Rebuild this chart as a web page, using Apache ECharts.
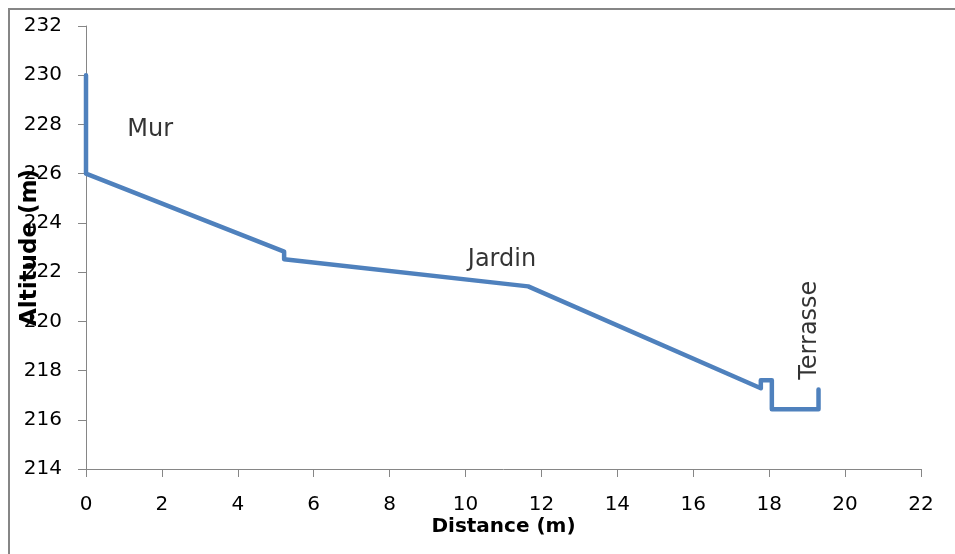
<!DOCTYPE html>
<html>
<head>
<meta charset="utf-8">
<script src="https://cdn.jsdelivr.net/npm/echarts@6/dist/echarts.min.js"></script>
<style>
  html, body { margin: 0; padding: 0; background: #ffffff; overflow: hidden; }
  #chart { width: 955px; height: 554px; }
</style>
</head>
<body>
<div id="chart"></div>
<script>
// Ground profile: distance along the section (m) and altitude (m)
const distance = [0, 0, 5.22, 5.22, 11.65, 17.78, 17.78, 18.07, 18.07, 19.3, 19.3];
const altitude = [230, 226, 222.83, 222.52, 221.42, 217.28, 217.61, 217.61, 216.43, 216.43, 217.23];

// Place names written along the profile
const placeNames = ['Mur', 'Jardin', 'Terrasse'];
const placeX = [1.69, 10.96, 19.08];
const placeY = [227.77, 222.49, 219.64];
const placeRotate = [0, 0, 90];

// Axis ranges and tick step
const xRange = [0, 22, 2];
const yRange = [214, 232, 2];

const FONT = 'DejaVu Sans';
const AXIS_GREY = '#868686';

const profile = distance.map((d, i) => [d, altitude[i]]);
const places = placeNames.map((n, i) => ({
  value: [placeX[i], placeY[i]],
  name: n,
  label: { rotate: placeRotate[i] }
}));

const chart = echarts.init(document.getElementById('chart'), null, { renderer: 'canvas' });

chart.setOption({
  backgroundColor: '#ffffff',
  animation: false,
  graphic: [{
    type: 'rect',
    shape: { x: 9, y: 9, width: 1400, height: 1400 },
    style: { fill: 'none', stroke: AXIS_GREY, lineWidth: 2 },
    silent: true
  }],
  grid: { left: 86, right: 34, top: 26, bottom: 85, containLabel: false, outerBoundsMode: 'none' },
  xAxis: {
    type: 'value',
    min: xRange[0], max: xRange[1], interval: xRange[2],
    name: 'Distance (m)',
    nameLocation: 'middle',
    nameGap: 48,
    nameMoveOverlap: false,
    nameTextStyle: { fontFamily: FONT, fontSize: 20, fontWeight: 'bold', color: '#000' },
    axisLine: { show: true, onZero: false, lineStyle: { color: AXIS_GREY, width: 1 } },
    axisTick: { show: true, inside: false, length: 8, lineStyle: { color: AXIS_GREY } },
    axisLabel: { margin: 26, fontFamily: FONT, fontSize: 20, color: '#000' },
    splitLine: { show: false }
  },
  yAxis: {
    type: 'value',
    min: yRange[0], max: yRange[1], interval: yRange[2],
    name: 'Altitude (m)',
    nameLocation: 'middle',
    nameRotate: 90,
    nameGap: 44,
    nameMoveOverlap: false,
    nameTextStyle: { fontFamily: FONT, fontSize: 23, fontWeight: 'bold', color: '#000' },
    axisLine: { show: true, onZero: false, lineStyle: { color: AXIS_GREY, width: 1 } },
    axisTick: { show: true, inside: false, length: 8, lineStyle: { color: AXIS_GREY } },
    axisLabel: { margin: 24, fontFamily: FONT, fontSize: 20, color: '#000' },
    splitLine: { show: false }
  },
  series: [
    {
      type: 'line',
      data: profile,
      showSymbol: false,
      symbol: 'none',
      lineStyle: { color: '#4F81BD', width: 4.5, cap: 'round', join: 'round' },
      z: 3
    },
    {
      type: 'scatter',
      data: places,
      symbolSize: 0,
      silent: true,
      label: {
        show: true,
        position: 'inside',
        formatter: p => p.name,
        fontFamily: FONT,
        fontSize: 24,
        color: '#000',
        align: 'center',
        verticalAlign: 'middle'
      },
      z: 4
    }
  ]
});
</script>
</body>
</html>
